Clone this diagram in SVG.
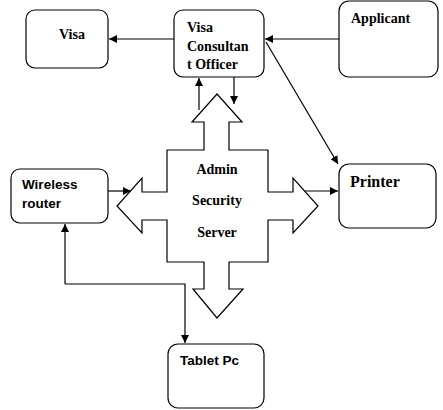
<svg xmlns="http://www.w3.org/2000/svg" width="443" height="410" viewBox="0 0 443 410">
<style>
.box{fill:#fff;stroke:#000;stroke-width:1.2}
.ser{font-family:"Liberation Serif",serif;font-weight:bold;font-size:14px;fill:#000}
.san{font-family:"Liberation Sans",Arial,sans-serif;font-weight:bold;font-size:13.5px;fill:#000}
.ln{fill:none;stroke:#000;stroke-width:1.2}
</style>
<defs>
<marker id="ah" viewBox="0 0 10 10" refX="10" refY="5" markerWidth="8" markerHeight="8" markerUnits="userSpaceOnUse" orient="auto">
<path d="M0,0 L10,5 L0,10 z" fill="#000"/>
</marker>
</defs>
<rect width="443" height="410" fill="#fff"/>
<g id="visa"><rect class="box" x="26" y="10" width="82" height="58" rx="9"/><text class="ser" x="59" y="39">Visa</text></g>
<g id="vco"><rect class="box" x="174" y="10" width="90" height="67" rx="9"/>
<text class="ser" x="187" y="32">Visa</text><text class="ser" x="187" y="51">Consultan</text><text class="ser" x="187" y="69">t Officer</text></g>
<g id="applicant"><rect class="box" x="339" y="1" width="99" height="76" rx="10"/><text class="ser" x="351" y="23">Applicant</text></g>
<g id="server">
<path class="box" d="M217,94 L242,122 L229,122 L229,150 L268,150 L268,192 L293,192 L293,178 L318,206 L293,233 L293,220 L268,220 L268,262 L229,262 L229,289 L243,289 L217,318 L193,289 L204,289 L204,262 L167,262 L167,220 L142,220 L142,233 L117,206 L142,178 L142,192 L167,192 L167,150 L204,150 L204,122 L192,122 Z"/>
<text class="ser" x="217" y="174" text-anchor="middle">Admin</text>
<text class="ser" x="217" y="205" text-anchor="middle">Security</text>
<text class="ser" x="217" y="237" text-anchor="middle">Server</text></g>
<g id="router"><rect class="box" x="11" y="169" width="97" height="54" rx="9"/><text class="san" x="22" y="189">Wireless</text><text class="san" x="22" y="208">router</text></g>
<g id="printer"><rect class="box" x="339" y="164" width="97" height="64" rx="10"/><text class="ser" x="350" y="187" style="font-size:16px">Printer</text></g>
<g id="tablet"><rect class="box" x="168" y="344" width="96" height="64" rx="10"/><text class="san" x="180" y="365">Tablet Pc</text></g>
<g id="connectors">
<line class="ln" x1="174" y1="39" x2="109" y2="39" marker-end="url(#ah)"/>
<line class="ln" x1="339" y1="39" x2="265" y2="39" marker-end="url(#ah)"/>
<line class="ln" x1="266" y1="42" x2="338" y2="164" marker-end="url(#ah)"/>
<line class="ln" x1="199" y1="110" x2="199" y2="78" marker-end="url(#ah)"/>
<line class="ln" x1="234" y1="77" x2="234" y2="104" marker-end="url(#ah)"/>
<line class="ln" x1="108" y1="191" x2="131" y2="191" marker-end="url(#ah)"/>
<line class="ln" x1="305" y1="191" x2="338" y2="191" marker-end="url(#ah)"/>
<line class="ln" x1="65" y1="284" x2="65" y2="224" marker-end="url(#ah)"/>
<polyline class="ln" points="65,284 185,284 185,343" marker-end="url(#ah)"/>
</g>
</svg>
